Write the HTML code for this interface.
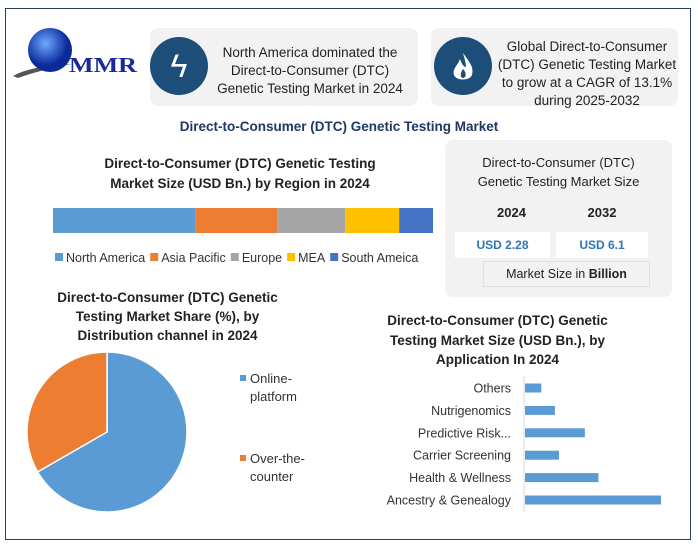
<!DOCTYPE html>
<html><head><meta charset="utf-8"><style>
body{margin:0;width:698px;height:551px;background:#fff;font-family:"Liberation Sans",sans-serif;position:relative;overflow:hidden}
.abs{position:absolute}
.card{background:#f2f2f2;border-radius:8px}
.t{color:#222;text-align:center}
.b{font-weight:bold}
</style></head><body>
<div class="abs" style="left:5px;top:8px;width:684px;height:530px;border:1.5px solid #2a3f5f"></div>
<svg class="abs" style="left:10px;top:26px" width="130" height="60">
 <defs><radialGradient id="g" cx="40%" cy="35%"><stop offset="0" stop-color="#6fa8ff"/><stop offset="1" stop-color="#0a2a9a"/></radialGradient></defs>
 <path d="M3 50 Q20 40 62 38 Q30 44 8 52Z" fill="#555"/>
 <circle cx="40" cy="24" r="22" fill="url(#g)"/>
 <text x="59" y="46" font-family="Liberation Serif" font-weight="bold" font-size="21" fill="#1a2a9a" textLength="68" lengthAdjust="spacingAndGlyphs">MMR</text>
</svg>
<div class="abs card" style="left:150px;top:28px;width:268px;height:78px"></div>
<div class="abs" style="left:150px;top:37px;width:58px;height:58px;border-radius:50%;background:#1d4e79;color:#fff;font-size:32px;text-align:center;line-height:58px">ϟ</div>
<div class="abs t" style="left:212px;top:44px;width:196px;font-size:13.5px;line-height:18px">North America dominated the Direct-to-Consumer (DTC) Genetic Testing Market in 2024</div>
<div class="abs card" style="left:431px;top:28px;width:247px;height:78px"></div>
<div class="abs" style="left:434px;top:37px;width:58px;height:58px;border-radius:50%;background:#1d4e79"><svg width="58" height="58"><path d="M29 16 C36 26 40 30 38 38 C36 44 22 44 20 38 C18 32 24 28 26 22 C28 28 30 30 32 30 C32 26 30 20 29 16Z" fill="#fff"/><path d="M29 32 C33 36 32 41 29 41 C26 41 26 36 29 32Z" fill="#1d4e79"/></svg></div>
<div class="abs t" style="left:496px;top:38px;width:182px;font-size:13.5px;line-height:18px">Global Direct-to-Consumer (DTC) Genetic Testing Market to grow at a CAGR of 13.1% during 2025-2032</div>
<div class="abs b" style="left:0;top:119px;width:678px;text-align:center;color:#1f3864;font-size:13.5px">Direct-to-Consumer (DTC) Genetic Testing Market</div>

<div class="abs t b" style="left:60px;top:154px;width:360px;font-size:13.5px;line-height:20px">Direct-to-Consumer (DTC) Genetic Testing<br>Market Size (USD Bn.) by Region in 2024</div>
<svg class="abs" id="regionSvg" style="left:0;top:200px" width="440" height="70"></svg>

<div class="abs card" style="left:445px;top:140px;width:227px;height:157px"></div>
<div class="abs t" style="left:445px;top:153px;width:227px;font-size:13px;line-height:19px">Direct-to-Consumer (DTC)<br>Genetic Testing Market Size</div>
<div class="abs t b" style="left:455px;top:205px;width:113px;font-size:13px">2024</div>
<div class="abs t b" style="left:556px;top:205px;width:92px;font-size:13px">2032</div>
<div class="abs t b" style="left:455px;top:232px;width:95px;height:26px;line-height:26px;background:#fff;color:#2e75b6;font-size:12px">USD 2.28</div>
<div class="abs t b" style="left:556px;top:232px;width:92px;height:26px;line-height:26px;background:#fff;color:#2e75b6;font-size:12px">USD 6.1</div>
<div class="abs t" style="left:483px;top:261px;width:165px;height:24px;line-height:24px;border:1px solid #e0e0e0;background:#f2f2f2;font-size:12.5px">Market Size in <b>Billion</b></div>

<div class="abs t b" style="left:20px;top:288px;width:295px;font-size:13.5px;line-height:19px">Direct-to-Consumer (DTC) Genetic<br>Testing Market Share (%), by<br>Distribution channel in 2024</div>
<svg class="abs" id="pieSvg" style="left:0;top:315px" width="340" height="210"></svg>

<div class="abs t b" style="left:360px;top:311px;width:275px;font-size:13.5px;line-height:19.5px">Direct-to-Consumer (DTC) Genetic<br>Testing Market Size (USD Bn.), by<br>Application In 2024</div>
<svg class="abs" id="appSvg" style="left:340px;top:370px" width="340" height="150"></svg>

<script>
const regionNames=["North America","Asia Pacific","Europe","MEA","South Ameica"];
const regionValues=[37.4,21.6,17.9,14.2,8.9];
const regionColors=["#5b9bd5","#ed7d31","#a5a5a5","#ffc000","#4472c4"];
const channelNames=["Online-platform","Over-the-counter"];
const channelValues=[66.7,33.3];
const appNames=["Others","Nutrigenomics","Predictive Risk...","Carrier Screening","Health & Wellness","Ancestry & Genealogy"];
const appValues=[0.12,0.22,0.44,0.25,0.54,1.0];
const NS="http://www.w3.org/2000/svg";
function mk(p,tag,a){const e=document.createElementNS(NS,tag);for(const k in a)e.setAttribute(k,a[k]);p.appendChild(e);return e;}
(function(){const s=document.getElementById('regionSvg');const tot=regionValues.reduce((a,b)=>a+b,0);const x0=53,W=380;let x=x0;
regionValues.forEach((v,i)=>{const w=v/tot*W;const r=mk(s,'rect',{x:x,y:8,width:w,height:25,fill:regionColors[i]});


x+=w;});
let cx=55;
regionNames.forEach((n,i)=>{const g=mk(s,'g',{});


mk(g,'rect',{x:cx,y:53,width:8,height:8,fill:regionColors[i]});
const t=mk(g,'text',{x:cx+11,y:62,'font-size':12.5,fill:'#333','font-family':'Liberation Sans'});t.textContent=n;
cx+=11+t.getComputedTextLength()+5;});})();
(function(){const s=document.getElementById('pieSvg');const cx=107,cy=117,rx=80,ry=80;const tot=channelValues.reduce((a,b)=>a+b,0);let a=0;const cols=["#5b9bd5","#ed7d31"];
channelValues.forEach((v,i)=>{const a1=a+v/tot*2*Math.PI;const p=t=>[cx+rx*Math.sin(t),cy-ry*Math.cos(t)];const [x1,y1]=p(a),[x2,y2]=p(a1);
const path=mk(s,'path',{d:`M${cx},${cy}L${x1},${y1}A${rx},${ry} 0 ${a1-a>Math.PI?1:0} 1 ${x2},${y2}Z`,fill:cols[i],stroke:'#fff','stroke-width':1.5});


a=a1;});
const leg=[["Online-","platform"],["Over-the-","counter"]];
leg.forEach((l,i)=>{const y=68+i*80;const g=mk(s,'g',{});


mk(g,'rect',{x:240,y:y-8,width:6,height:6,fill:cols[i]});
l.forEach((w,j)=>{const t=mk(g,'text',{x:250,y:y+j*18,'font-size':13,fill:'#333','font-family':'Liberation Sans'});t.textContent=w;});});})();
(function(){const s=document.getElementById('appSvg');const ax=185,scale=136,top=18,step=22.4;
mk(s,'line',{x1:ax-1,y1:6,x2:ax-1,y2:142,stroke:'#d9d9d9'});
appNames.forEach((n,i)=>{const cy=top+i*step;const r=mk(s,'rect',{x:ax,y:cy-4.5,width:appValues[i]*scale,height:9,fill:'#5b9bd5'});


const t=mk(s,'text',{x:ax-14,y:cy+4.5,'font-size':12.5,fill:'#333','text-anchor':'end','font-family':'Liberation Sans'});t.textContent=n;});})();
</script>
</body></html>
